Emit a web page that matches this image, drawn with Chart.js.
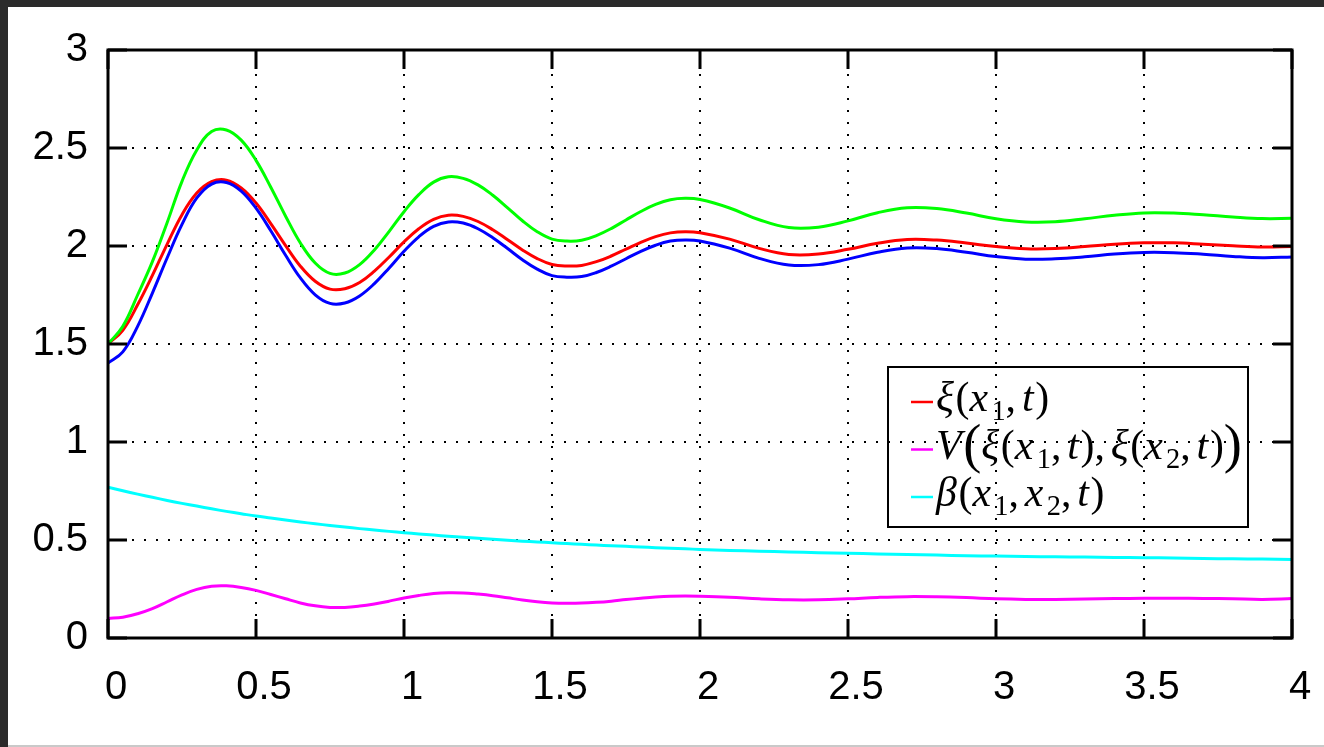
<!DOCTYPE html>
<html>
<head>
<meta charset="utf-8">
<script src="https://cdn.jsdelivr.net/npm/chart.js@4.4.0/dist/chart.umd.min.js"></script>
<style>
  html, body { margin: 0; padding: 0; background: #2b2b2b; overflow: hidden; }
  #panel { position: absolute; left: 8px; top: 7px; width: 1316px; height: 738px; background: #fff; border-bottom: 2px solid #c9c9c9; }
  #chart { position: absolute; left: 0; top: 0; }
</style>
</head>
<body>
<div id="panel"></div>
<canvas id="chart" width="1324" height="747"></canvas>
<script>
  // time axis shared by every curve
  const t = [0, 0.05, 0.1, 0.15, 0.2, 0.25, 0.3, 0.35, 0.4, 0.45, 0.5, 0.55, 0.6, 0.65, 0.7, 0.75,
    0.8, 0.85, 0.9, 0.95, 1.0, 1.05, 1.1, 1.15, 1.2, 1.25, 1.3, 1.35, 1.4, 1.45, 1.5, 1.55,
    1.6, 1.65, 1.7, 1.75, 1.8, 1.85, 1.9, 1.95, 2.0,
    2.1, 2.2, 2.3, 2.4, 2.5, 2.6, 2.7, 2.8, 2.9, 3.0, 3.1, 3.2, 3.3, 3.4, 3.5, 3.6, 3.7, 3.8, 3.9, 4.0];

  const green = [1.50, 1.59, 1.75, 1.92, 2.12, 2.33, 2.49, 2.584,
    2.592, 2.540, 2.437, 2.300, 2.152, 2.015, 1.913, 1.860,
    1.862, 1.905, 1.980, 2.075, 2.175, 2.262, 2.326, 2.353,
    2.345, 2.312, 2.259, 2.195, 2.129, 2.073, 2.035, 2.025,
    2.029, 2.053, 2.089, 2.133, 2.176, 2.212, 2.236, 2.243, 2.237,
    2.194, 2.134, 2.094, 2.096, 2.128, 2.170, 2.195, 2.191, 2.168, 2.139,
    2.123, 2.124, 2.139, 2.157, 2.169, 2.168, 2.159, 2.148, 2.140, 2.141];

  const blue = [1.403, 1.46, 1.59, 1.76, 1.94, 2.11, 2.245, 2.316,
    2.324, 2.280, 2.193, 2.078, 1.953, 1.837, 1.751, 1.707,
    1.709, 1.745, 1.808, 1.888, 1.973, 2.047, 2.100, 2.123,
    2.117, 2.088, 2.042, 1.987, 1.930, 1.882, 1.849, 1.841,
    1.844, 1.865, 1.897, 1.935, 1.973, 2.004, 2.025, 2.031, 2.026,
    1.989, 1.937, 1.903, 1.905, 1.933, 1.968, 1.990, 1.987, 1.968, 1.946,
    1.933, 1.935, 1.945, 1.959, 1.967, 1.966, 1.958, 1.947, 1.940, 1.944];

  const xi1 = [1.50, 1.57, 1.70, 1.85, 2.01, 2.16, 2.27, 2.328,
    2.336, 2.296, 2.219, 2.114, 2.002, 1.897, 1.820, 1.780,
    1.782, 1.814, 1.872, 1.944, 2.021, 2.088, 2.136, 2.157,
    2.151, 2.125, 2.083, 2.032, 1.980, 1.936, 1.906, 1.898,
    1.901, 1.920, 1.949, 1.984, 2.019, 2.048, 2.067, 2.073, 2.068,
    2.035, 1.988, 1.957, 1.959, 1.983, 2.014, 2.033, 2.030, 2.015, 1.997,
    1.986, 1.987, 1.997, 2.009, 2.016, 2.016, 2.009, 2.001, 1.995, 1.997];

  const vxi = [0.100, 0.106, 0.124, 0.150, 0.185, 0.220, 0.248, 0.264,
    0.266, 0.258, 0.243, 0.222, 0.200, 0.179, 0.164, 0.156,
    0.156, 0.163, 0.174, 0.188, 0.204, 0.217, 0.227, 0.231,
    0.230, 0.224, 0.216, 0.205, 0.194, 0.185, 0.179, 0.177,
    0.178, 0.182, 0.188, 0.196, 0.203, 0.209, 0.213, 0.214, 0.213,
    0.208, 0.200, 0.195, 0.195, 0.200, 0.207, 0.211, 0.210, 0.206, 0.200,
    0.197, 0.197, 0.199, 0.201, 0.203, 0.203, 0.202, 0.200, 0.197, 0.201];

  const beta = [0.769, 0.751, 0.734, 0.718, 0.702, 0.687, 0.673, 0.659,
    0.646, 0.634, 0.622, 0.612, 0.602, 0.592, 0.583, 0.574,
    0.566, 0.558, 0.551, 0.544, 0.537, 0.531, 0.525, 0.519,
    0.514, 0.509, 0.504, 0.499, 0.494, 0.490, 0.486, 0.482,
    0.478, 0.474, 0.471, 0.468, 0.464, 0.461, 0.458, 0.455, 0.452,
    0.447, 0.443, 0.439, 0.435, 0.432, 0.429, 0.426, 0.423, 0.420, 0.418,
    0.416, 0.414, 0.413, 0.411, 0.410, 0.408, 0.406, 0.404, 0.403, 0.401];

  // legend text: _ = subscript, { } = tall parens
  const legendTexts = ['ξ(x_1, t)', 'V{ξ(x_1, t), ξ(x_2, t)}', 'β(x_1, x_2, t)'];

  const series = [
    { values: green, color: '#00ff00', legend: null },
    { values: blue, color: '#0000ff', legend: null },
    { values: xi1, color: '#ff0000', legend: legendTexts[0] },
    { values: vxi, color: '#ff00ff', legend: legendTexts[1] },
    { values: beta, color: '#00ffff', legend: legendTexts[2] }
  ];

  const tickFont = { family: "'Liberation Sans Narrow', 'Liberation Sans', sans-serif", size: 40 };

  // draw a small math string, returns end x
  function drawMath(ctx, str, x, y, size, dry) {
    for (let i = 0; i < str.length; i++) {
      let ch = str[i];
      let s = size, dy = 0, sub = false;
      if (ch === '_') { ch = str[++i]; s = size * 0.68; dy = size * 0.22; sub = true; }
      if (ch === ' ') { x += size * 0.14; continue; }
      let glyph = ch;
      if (ch === '{' || ch === '}') { glyph = ch === '{' ? '(' : ')'; s = size * 1.3; dy = size * 0.08; }
      const italic = /[A-Za-zα-ωΑ-Ω]/.test(ch);
      ctx.font = (italic ? 'italic ' : '') + s + 'px "Liberation Serif"';
      if (sub) x += size * 0.04;
      if (!dry) ctx.fillText(glyph, x, y + dy);
      x += ctx.measureText(glyph).width + (italic ? size * 0.04 : 0);
    }
    return x;
  }

  const framePlugin = {
    id: 'frame',
    afterDatasetsDraw(chart) {
      const { ctx, chartArea: a, scales: { x, y } } = chart;
      ctx.save();
      ctx.strokeStyle = '#000';
      ctx.lineWidth = 3;
      ctx.beginPath();
      x.ticks.forEach(tk => {
        const px = x.getPixelForValue(tk.value);
        ctx.moveTo(px, a.bottom); ctx.lineTo(px, a.bottom - 19);
        ctx.moveTo(px, a.top); ctx.lineTo(px, a.top + 19);
      });
      y.ticks.forEach(tk => {
        const py = y.getPixelForValue(tk.value);
        ctx.moveTo(a.left, py); ctx.lineTo(a.left + 19, py);
        ctx.moveTo(a.right, py); ctx.lineTo(a.right - 19, py);
      });
      ctx.stroke();
      ctx.strokeRect(a.left, a.top, a.right - a.left, a.bottom - a.top);
      ctx.restore();
    },
    afterDraw(chart) {
      const { ctx, chartArea: a } = chart;
      const bx = a.right - 404, by = a.top + 317, bw = 360, bh = 160;
      ctx.save();
      ctx.strokeStyle = '#000';
      ctx.lineWidth = 2;
      ctx.strokeRect(bx, by, bw, bh);
      const items = chart.data.datasets.filter(d => d.legendText);
      // fit the longest entry to the box
      const w = drawMath(ctx, legendTexts[1], 0, 0, 34, true);
      const size = 34 * 306 / w;
      ctx.textBaseline = 'alphabetic';
      ctx.fillStyle = '#000';
      items.forEach((d, i) => {
        const ly = by + 35 + i * 47.5;
        ctx.strokeStyle = d.borderColor;
        ctx.lineWidth = 2.5;
        ctx.beginPath();
        ctx.moveTo(bx + 23, ly); ctx.lineTo(bx + 45, ly);
        ctx.stroke();
        drawMath(ctx, d.legendText, bx + 48, ly + 9, size, false);
      });
      ctx.restore();
    }
  };

  const noPad = s => { s.paddingLeft = 0; s.paddingRight = 0; s.paddingTop = 0; s.paddingBottom = 0; };

  new Chart(document.getElementById('chart'), {
    type: 'line',
    data: {
      datasets: series.map(s => ({
        data: t.map((tv, i) => ({ x: tv, y: s.values[i] })),
        borderColor: s.color,
        borderWidth: 3,
        pointRadius: 0,
        fill: false,
        tension: 0.4,
        legendText: s.legend
      }))
    },
    options: {
      responsive: false,
      animation: false,
      layout: { padding: { left: 0, right: 32, top: 50, bottom: 0 } },
      plugins: { legend: { display: false }, tooltip: { enabled: false } },
      scales: {
        x: {
          type: 'linear', min: 0, max: 4,
          afterFit: s => { s.height = 109; noPad(s); },
          ticks: { stepSize: 0.5, color: '#000', font: tickFont, padding: 26, labelOffset: 8, maxRotation: 0,
            callback: v => String(v) },
          grid: { color: '#000', lineWidth: 2, drawTicks: false },
          border: { display: false, dash: [2, 10] }
        },
        y: {
          min: 0, max: 3,
          afterFit: s => { s.width = 108; noPad(s); },
          ticks: { stepSize: 0.5, color: '#000', font: tickFont, padding: 20, callback: v => String(v) },
          grid: { color: '#000', lineWidth: 2, drawTicks: false },
          border: { display: false, dash: [2, 10] }
        }
      }
    },
    plugins: [framePlugin]
  });
</script>
</body>
</html>
